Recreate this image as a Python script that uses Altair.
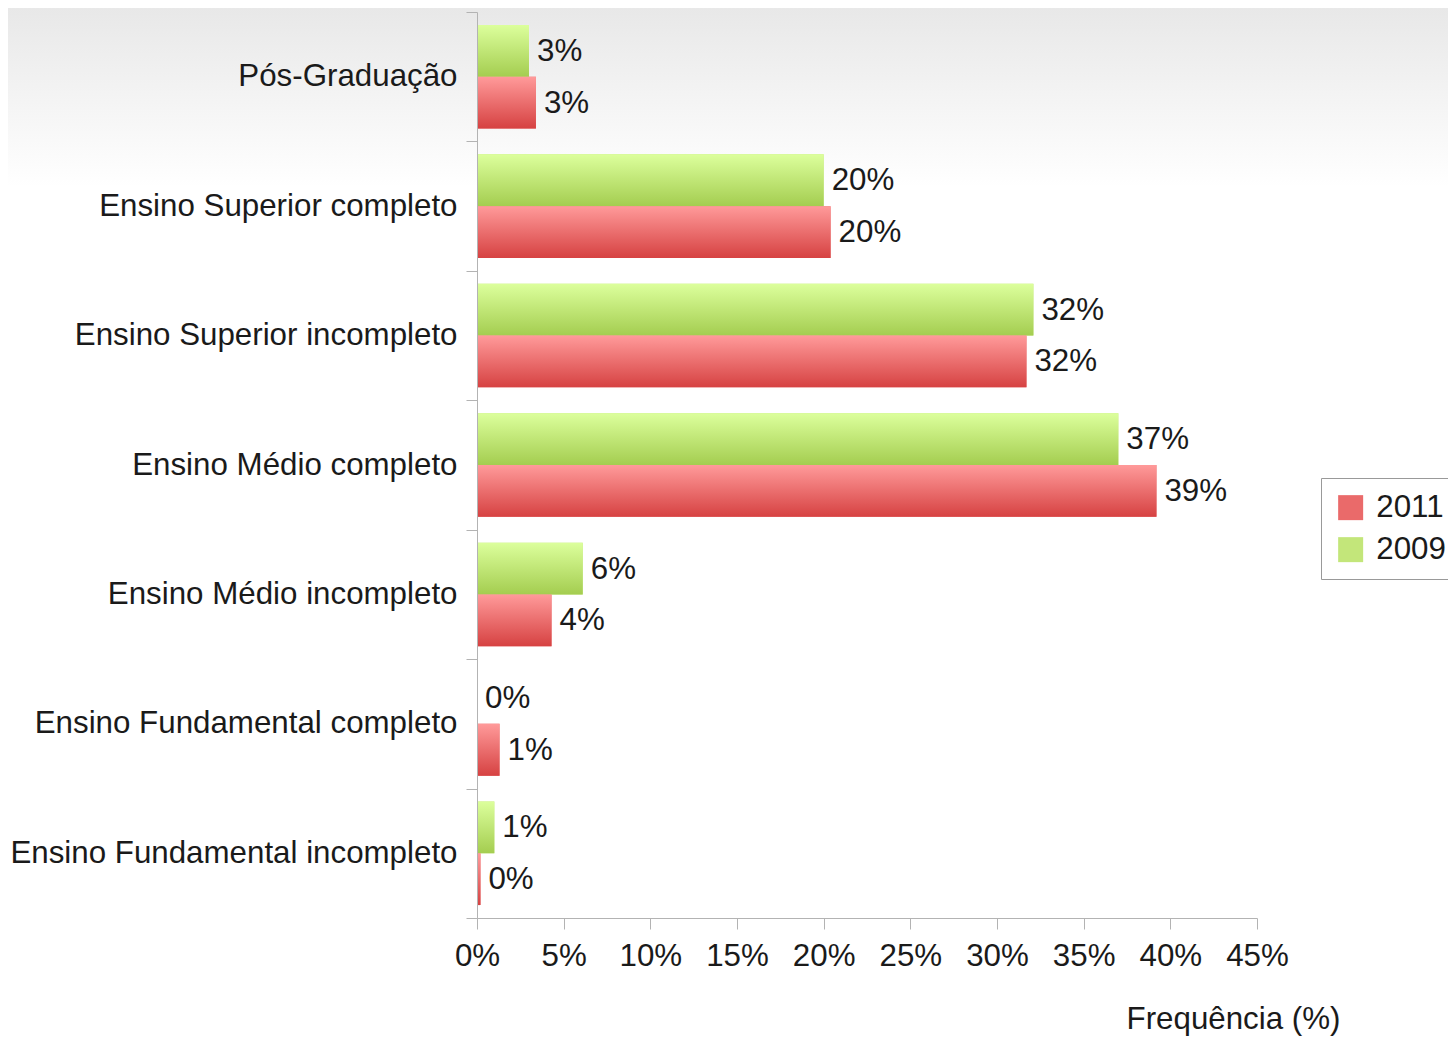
import altair as alt
import pandas as pd

categories = [
    "Pós-Graduação",
    "Ensino Superior completo",
    "Ensino Superior incompleto",
    "Ensino Médio completo",
    "Ensino Médio incompleto",
    "Ensino Fundamental completo",
    "Ensino Fundamental incompleto",
]
values_2009 = [3.0, 20.0, 32.1, 37.0, 6.1, 0.0, 1.0]
values_2011 = [3.4, 20.4, 31.7, 39.2, 4.3, 1.3, 0.2]
years = ["2009", "2011"]
x_ticks = [0, 5, 10, 15, 20, 25, 30, 35, 40, 45]

rows = []
for c, v in zip(categories, values_2009):
    rows.append({"cat": c, "year": "2009", "value": v})
for c, v in zip(categories, values_2011):
    rows.append({"cat": c, "year": "2011", "value": v})
df = pd.DataFrame(rows)

FONT = "Liberation Sans"
TXT = "#1a1a1a"
AX = "#b3b3b3"
FS = 31.3

green_grad = alt.LinearGradient(
    gradient="linear", x1=0, y1=0, x2=0, y2=1,
    stops=[alt.GradientStop(offset=0, color="#dcff9c"),
           alt.GradientStop(offset=1, color="#a4cd50")],
)
red_grad = alt.LinearGradient(
    gradient="linear", x1=0, y1=0, x2=0, y2=1,
    stops=[alt.GradientStop(offset=0, color="#ff9a9a"),
           alt.GradientStop(offset=1, color="#d64242")],
)
bg_grad = alt.LinearGradient(
    gradient="linear", x1=0, y1=0, x2=0, y2=1,
    stops=[alt.GradientStop(offset=0, color="#e8e8e8"),
           alt.GradientStop(offset=1, color="#ffffff")],
)

y_enc = alt.Y(
    "cat:N", sort=categories, title=None,
    scale=alt.Scale(paddingInner=0, paddingOuter=0),
    axis=alt.Axis(
        tickBand="extent", labelFontSize=FS, labelFont=FONT, labelColor=TXT,
        labelPadding=9, tickSize=11, tickColor=AX, domainColor=AX,
        labelLimit=600, labelOverlap=False, zindex=1,
    ),
)
x_enc = alt.X(
    "value:Q",
    scale=alt.Scale(domain=[0, 45], nice=False),
    axis=alt.Axis(
        values=x_ticks, labelExpr="datum.value + '%'", grid=False,
        labelOverlap=False, labelFlush=False, zindex=1,
        labelFontSize=FS, labelFont=FONT, labelColor=TXT, labelPadding=11,
        tickSize=11, tickColor=AX, domainColor=AX,
        title="Frequência (%)", titleFont=FONT, titleFontSize=FS,
        titleFontWeight="normal", titleColor=TXT, titleX=756, titleY=110,
        titleAlign="center", titleBaseline="alphabetic",
    ),
)
yoff_enc = alt.YOffset(
    "year:N", sort=years,
    scale=alt.Scale(domain=years, paddingOuter=0.25, paddingInner=0),
)

base = alt.Chart(df)

bg = alt.Chart(alt.Data(values=[{"a": 1}])).mark_rect(
    color=bg_grad
).encode(
    x=alt.value(-470), x2=alt.value(1000), y=alt.value(-4), y2=alt.value(175)
)

legend_bars = base.mark_bar().encode(
    y=y_enc, x=x_enc, yOffset=yoff_enc,
    color=alt.Color(
        "year:N",
        scale=alt.Scale(domain=["2011", "2009"], range=["#ea6a6a", "#c3e67a"]),
        legend=alt.Legend(
            title=None, orient="none", legendX=844, legendY=466,
            symbolType="square", symbolSize=625, symbolStrokeWidth=0,
            labelFontSize=FS, labelFont=FONT, labelColor=TXT, labelOffset=10,
            rowPadding=10, padding=14, strokeColor="#999999",
            fillColor="#ffffff",
        ),
    ),
)

bars09 = base.transform_filter("datum.year == '2009'").mark_bar(color=green_grad).encode(
    y=y_enc, x=x_enc, yOffset=yoff_enc
)
bars11 = base.transform_filter("datum.year == '2011'").mark_bar(color=red_grad).encode(
    y=y_enc, x=x_enc, yOffset=yoff_enc
)

labels = base.transform_calculate(
    label="format(datum.value, '.0f') + '%'"
).mark_text(
    align="left", baseline="middle", dx=8, dy=1, fontSize=FS, font=FONT, color=TXT
).encode(
    y=y_enc, x=x_enc, yOffset=yoff_enc, text="label:N"
)

chart = alt.layer(bg, legend_bars, bars09, bars11, labels).properties(
    width=780, height=906,
    autosize=alt.AutoSizeParams(type="none"),
    padding={"left": 469, "top": 4, "right": 191, "bottom": 119},
).configure_view(stroke=None)

chart.save("out.html", embed_options={"renderer": "svg", "actions": False})
